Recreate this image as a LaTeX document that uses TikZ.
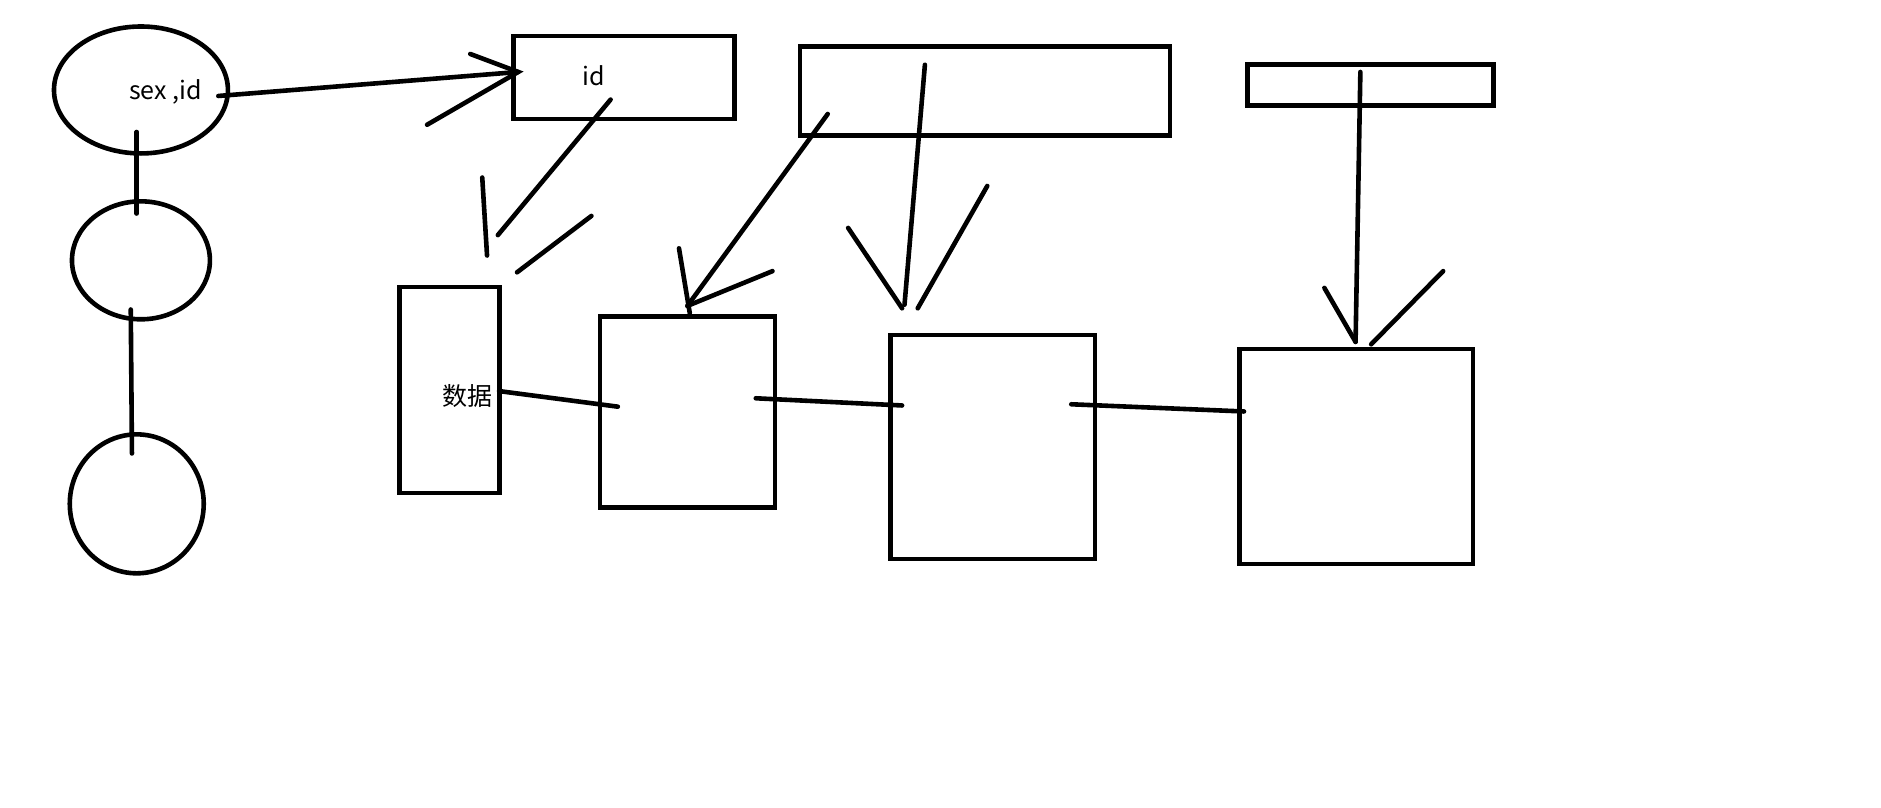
\documentclass[tikz,border=0pt]{standalone}
\usepackage{fontspec}
\setmainfont{Noto Sans CJK SC}
\usetikzlibrary{shapes.geometric}
\begin{document}
\begin{tikzpicture}[x=1.2pt,y=-1.2pt,
  pen/.style={line width=4.6pt,line cap=round},
  oval/.style={ellipse,draw,line width=4.6pt,inner sep=0pt},
  frame/.style={rectangle,draw,line width=4.6pt,inner sep=0pt},
  txt/.style={inner sep=0pt,font=\fontsize{25}{27}\selectfont}]
\useasboundingbox (0,0) rectangle (1568,673);
% left column of ovals
\node[oval,minimum width=174pt,minimum height=127pt] (ea) at (117.5,75) {};
\node[oval,minimum width=138pt,minimum height=118pt] (eb) at (117.5,217) {};
\node[oval,minimum width=134pt,minimum height=139pt] (ec) at (114,420) {};
\node[txt] (tsex) at (138,77) {sex ,id};
% boxes
\node[frame,minimum width=221pt,minimum height=83pt] (bid) at (520,64.5) {};
\node[txt] (tid) at (495,63) {id};
\node[frame,minimum width=370pt,minimum height=89pt] (btop) at (821,76) {};
\node[frame,minimum width=246pt,minimum height=41pt] (bsmall) at (1142.5,71) {};
\node[frame,minimum width=100pt,minimum height=206pt] (bdata) at (374.5,325) {};
\node[txt] (tdata) at (390,330) {数据};
\node[frame,minimum width=175pt,minimum height=191pt] (b2) at (573,343.5) {};
\node[frame,minimum width=205pt,minimum height=224pt] (b3) at (827.5,372.5) {};
\node[frame,minimum width=234pt,minimum height=215pt] (b4) at (1130.5,380.5) {};
% connector end points
\coordinate (a1) at (114,110); \coordinate (a2) at (114,178);
\coordinate (c1) at (109,258); \coordinate (c2) at (110,378);
\coordinate (s1) at (182,80);  \coordinate (s2) at (432,60);
\coordinate (s3) at (392,45);  \coordinate (s4) at (356,104);
\coordinate (i1) at (509,83);  \coordinate (i2) at (415,196);
\coordinate (i3) at (402,148); \coordinate (i4) at (406,213);
\coordinate (i5) at (493,180); \coordinate (i6) at (431,227);
\coordinate (p1) at (690,95);  \coordinate (p2) at (573,255);
\coordinate (p3) at (566,207); \coordinate (p4) at (575,261);
\coordinate (p5) at (644,226);
\coordinate (q1) at (771,54);  \coordinate (q2) at (754,254);
\coordinate (q3) at (707,190); \coordinate (q4) at (752,257);
\coordinate (q5) at (823,155); \coordinate (q6) at (765,257);
\coordinate (r1) at (1134,60); \coordinate (r2) at (1130,285);
\coordinate (r3) at (1104,240);
\coordinate (r5) at (1203,226); \coordinate (r6) at (1143,287);
\coordinate (d1) at (416,326); \coordinate (d2) at (515,339);
\coordinate (m1) at (630,332); \coordinate (m2) at (752,338);
\coordinate (n1) at (893,337); \coordinate (n2) at (1037,343);
% oval links
\draw[pen] (a1) -- (a2);
\draw[pen] (c1) -- (c2);
% arrow sex,id -> id
\draw[pen] (s1) -- (s2);
\draw[pen] (s3) -- (s2) -- (s4);
% arrow id -> data
\draw[pen] (i1) -- (i2);
\draw[pen] (i3) -- (i4);
\draw[pen] (i5) -- (i6);
% arrows from the wide box
\draw[pen] (p1) -- (p2);
\draw[pen] (p3) -- (p4);
\draw[pen] (p5) -- (p2);
\draw[pen] (q1) -- (q2);
\draw[pen] (q3) -- (q4);
\draw[pen] (q5) -- (q6);
% arrow from the narrow box
\draw[pen] (r1) -- (r2);
\draw[pen] (r3) -- (r2);
\draw[pen] (r5) -- (r6);
% chain links
\draw[pen] (d1) -- (d2);
\draw[pen] (m1) -- (m2);
\draw[pen] (n1) -- (n2);
\end{tikzpicture}
\end{document}
